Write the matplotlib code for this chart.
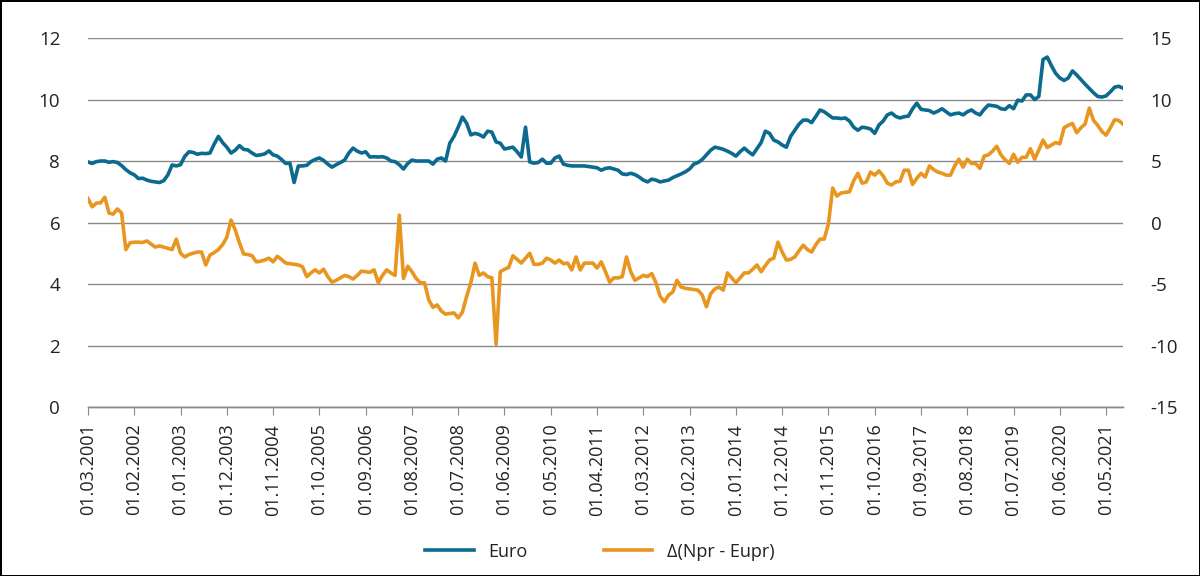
import matplotlib
matplotlib.use('Agg')
import matplotlib.pyplot as plt
import pandas as pd

plt.rcParams['font.family'] = ['Open Sans', 'DejaVu Sans']
plt.rcParams['axes.unicode_minus'] = False

# Monthly data, 01.03.2001 - 01.09.2021
euro = [
    7.97, 7.92, 7.98, 8.0, 8.0, 7.96, 7.98, 7.95, 7.85, 7.72, 7.62, 7.55,
    7.43, 7.44, 7.38, 7.34, 7.32, 7.3, 7.36, 7.55, 7.87, 7.84, 7.88, 8.15,
    8.3, 8.28, 8.22, 8.25, 8.24, 8.26, 8.55, 8.8, 8.6, 8.45, 8.26, 8.35,
    8.5, 8.38, 8.36, 8.26, 8.18, 8.2, 8.23, 8.33, 8.2, 8.16, 8.05, 7.92,
    7.93, 7.3, 7.84, 7.84, 7.86, 7.98, 8.05, 8.1, 8.02, 7.9, 7.8, 7.88,
    7.95, 8.03, 8.26, 8.42, 8.32, 8.26, 8.3, 8.13, 8.14, 8.13, 8.14, 8.1,
    8.0, 7.98, 7.88, 7.74, 7.92, 8.03, 8.0, 8.0, 8.0, 8.0, 7.9, 8.06,
    8.1, 8.0, 8.58, 8.8, 9.1, 9.43, 9.23, 8.85, 8.9, 8.86, 8.78, 8.97,
    8.94, 8.62, 8.58, 8.39, 8.42, 8.45, 8.3, 8.13, 9.1, 7.97, 7.93, 7.95,
    8.06, 7.93, 7.93, 8.1, 8.16, 7.9, 7.86, 7.84, 7.84, 7.84, 7.84, 7.82,
    7.8, 7.78, 7.7, 7.76, 7.78, 7.74, 7.7, 7.58, 7.56, 7.6, 7.56, 7.48,
    7.38, 7.32, 7.41, 7.38, 7.32, 7.35, 7.38, 7.46, 7.52, 7.58, 7.65, 7.74,
    7.9, 7.95, 8.05, 8.2, 8.35, 8.45, 8.42, 8.38, 8.32, 8.25, 8.16, 8.3,
    8.42, 8.3, 8.2, 8.4, 8.6, 8.97, 8.9, 8.68, 8.62, 8.52, 8.45, 8.8,
    9.0, 9.2, 9.33, 9.33, 9.25, 9.45, 9.66, 9.6, 9.5, 9.4, 9.4, 9.38,
    9.4, 9.3, 9.1, 9.0, 9.1, 9.08, 9.04, 8.9, 9.17, 9.3, 9.5, 9.56,
    9.45, 9.4, 9.44, 9.46, 9.7, 9.88, 9.68, 9.66, 9.64, 9.56, 9.62, 9.7,
    9.6, 9.5, 9.54, 9.56, 9.5, 9.6, 9.66, 9.56, 9.5, 9.68, 9.82, 9.8,
    9.78, 9.7, 9.68, 9.8, 9.7, 9.98, 9.95, 10.15, 10.15, 10.0, 10.1, 11.3,
    11.38, 11.1, 10.85, 10.7, 10.62, 10.7, 10.93, 10.8, 10.65, 10.5, 10.36, 10.22,
    10.1, 10.08, 10.12, 10.25, 10.4, 10.43, 10.37,
]

delta = [
    1.95, 1.28, 1.58, 1.6, 2.05, 0.77, 0.68, 1.1, 0.77, -2.2, -1.65, -1.6,
    -1.6, -1.62, -1.5, -1.75, -2.0, -1.9, -2.0, -2.1, -2.2, -1.35, -2.5, -2.8,
    -2.6, -2.5, -2.4, -2.4, -3.45, -2.64, -2.45, -2.2, -1.8, -1.2, 0.2, -0.6,
    -1.65, -2.56, -2.6, -2.7, -3.2, -3.15, -3.05, -2.9, -3.2, -2.75, -3.0, -3.3,
    -3.35, -3.4, -3.45, -3.6, -4.4, -4.1, -3.85, -4.1, -3.8, -4.4, -4.85, -4.7,
    -4.5, -4.3, -4.4, -4.6, -4.3, -3.95, -4.0, -4.05, -3.85, -4.9, -4.3, -3.85,
    -4.1, -4.3, 0.6, -4.55, -3.55, -4.0, -4.55, -4.9, -4.9, -6.3, -6.9, -6.7,
    -7.2, -7.45, -7.4, -7.35, -7.75, -7.3, -6.0, -4.9, -3.3, -4.3, -4.1, -4.4,
    -4.5, -9.9, -4.0, -3.8, -3.65, -2.7, -3.0, -3.3, -2.9, -2.5, -3.4, -3.4,
    -3.3, -2.9, -3.05, -3.3, -3.05, -3.35, -3.3, -3.85, -2.8, -3.85, -3.3, -3.3,
    -3.3, -3.7, -3.2, -4.0, -4.85, -4.5, -4.5, -4.4, -2.8, -4.0, -4.7, -4.5,
    -4.3, -4.4, -4.15, -4.9, -6.0, -6.45, -5.9, -5.65, -4.7, -5.25, -5.35, -5.4,
    -5.45, -5.5, -5.9, -6.85, -5.8, -5.4, -5.25, -5.5, -4.1, -4.5, -4.9, -4.5,
    -4.1, -4.1, -3.8, -3.45, -4.0, -3.5, -3.05, -2.9, -1.6, -2.4, -3.05, -3.0,
    -2.8, -2.3, -1.85, -2.2, -2.4, -1.8, -1.35, -1.35, -0.1, 2.8, 2.15, 2.4,
    2.45, 2.5, 3.4, 4.0, 3.2, 3.3, 4.1, 3.85, 4.2, 3.8, 3.2, 3.05,
    3.3, 3.35, 4.25, 4.25, 3.1, 3.6, 4.0, 3.7, 4.6, 4.3, 4.1, 4.0,
    3.85, 3.85, 4.6, 5.15, 4.5, 5.15, 4.8, 4.8, 4.4, 5.4, 5.5, 5.8,
    6.2, 5.5, 5.1, 4.8, 5.55, 4.9, 5.3, 5.3, 6.0, 5.15, 5.9, 6.7,
    6.1, 6.3, 6.5, 6.4, 7.7, 7.9, 8.05, 7.3, 7.7, 8.0, 9.3, 8.3,
    7.9, 7.4, 7.1, 7.7, 8.35, 8.3, 8.0,
]

dates = pd.date_range('2001-03-01', periods=len(euro), freq='MS')
x = list(range(len(euro)))
tick_pos = x[::11]
tick_labels = [d.strftime('%d.%m.%Y') for d in dates[::11]]

blue = '#0b6a8d'
orange = '#e8961f'
grid_c = '#8a8a8a'
txt_c = '#222222'

fig = plt.figure(figsize=(12, 5.76), dpi=100)
fig.patch.set_edgecolor('black')
fig.patch.set_linewidth(2)

ax = fig.add_axes([0.0733, 0.2934, 0.8625, 0.6406])
ax2 = ax.twinx()

l1, = ax.plot(x, euro, color=blue, lw=2.6, label='Euro', solid_joinstyle='round')
l2, = ax2.plot(x, delta, color=orange, lw=2.6, label='Δ(Npr - Eupr)', solid_joinstyle='round')

ax.set_xlim(0, len(euro) - 1)
ax.set_ylim(0, 12)
ax2.set_ylim(-15, 15)
ax.set_yticks(range(0, 13, 2))
ax2.set_yticks(range(-15, 16, 5))
ax.yaxis.grid(True, color=grid_c, lw=1)
ax.set_axisbelow(True)

ax.set_xticks(tick_pos)
ax.set_xticklabels(tick_labels, rotation=90)

for a in (ax, ax2):
    for s in ('top', 'left', 'right'):
        a.spines[s].set_visible(False)
    a.spines['bottom'].set_color(grid_c)
    a.spines['bottom'].set_linewidth(1)

ax.tick_params(axis='x', length=6, color=grid_c, pad=6, labelsize=13, labelcolor=txt_c)
ax.tick_params(axis='y', length=0, pad=20, labelsize=13.5, labelcolor=txt_c)
ax2.tick_params(axis='y', length=0, pad=20, labelsize=13.5, labelcolor=txt_c)

fig.legend(handles=[l1, l2], loc='center', bbox_to_anchor=(0.5, 0.042), ncol=2,
           frameon=False, fontsize=13, handlelength=2.7, columnspacing=4.2,
           handletextpad=0.8, labelcolor=txt_c)

fig.savefig('out.png', dpi=100, edgecolor=fig.get_edgecolor())
